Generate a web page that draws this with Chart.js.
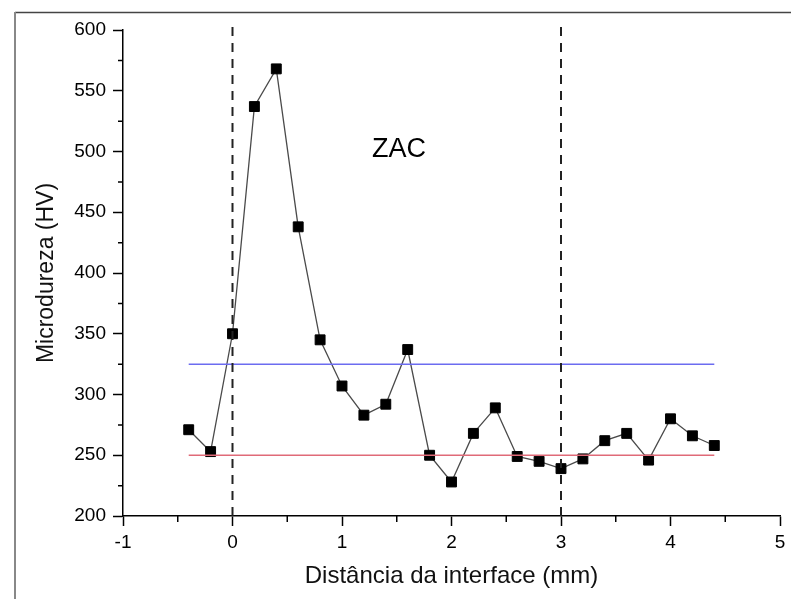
<!DOCTYPE html>
<html>
<head>
<meta charset="utf-8">
<script src="https://cdn.jsdelivr.net/npm/chart.js@4.4.1/dist/chart.umd.min.js"></script>
<style>
  html, body { margin: 0; padding: 0; background: #fff; }
  #wrap { width: 791px; height: 599px; position: relative; }
</style>
</head>
<body>
<div id="wrap"><canvas id="hardness-chart" width="791" height="599"></canvas></div>
<script>
// distance from interface (mm) and microhardness (HV)
const distances = [-0.4, -0.2, 0, 0.2, 0.4, 0.6, 0.8, 1.0, 1.2, 1.4, 1.6, 1.8, 2.0, 2.2, 2.4, 2.6, 2.8, 3.0, 3.2, 3.4, 3.6, 3.8, 4.0, 4.2, 4.4];
const hardness = [271, 253, 350, 537, 568, 438, 345, 307, 283, 292, 337, 250, 228, 268, 289, 249, 245, 239, 247, 262, 268, 246, 280, 266, 258];

// reference levels
const refSpan = [-0.4, 4.4];
const upperRef = 325;
const lowerRef = 250;

// ZAC limits (dashed)
const zacLimits = [0, 3];
const dashSpan = [200, 607];

const xTicks = [-1, 0, 1, 2, 3, 4, 5];
const yTicks = [200, 250, 300, 350, 400, 450, 500, 550, 600];

const points = distances.map((d, i) => ({ x: d, y: hardness[i] }));

// frame + minor ticks + ZAC label
const extras = {
  id: 'extras',
  beforeDraw(chart) {
    const ctx = chart.ctx;
    ctx.save();
    ctx.fillStyle = '#fff';
    ctx.fillRect(0, 0, chart.width, chart.height);
    ctx.strokeStyle = '#444';
    ctx.lineWidth = 1.5;
    ctx.beginPath();
    ctx.moveTo(15, 12.5);
    ctx.lineTo(chart.width, 12.5);
    ctx.stroke();
    ctx.strokeStyle = '#888';
    ctx.lineWidth = 2;
    ctx.beginPath();
    ctx.moveTo(15, 12);
    ctx.lineTo(15, chart.height);
    ctx.stroke();
    ctx.restore();
  },
  afterDraw(chart) {
    const ctx = chart.ctx;
    const x = chart.scales.x, y = chart.scales.y;
    ctx.save();
    ctx.strokeStyle = '#000';
    ctx.lineWidth = 1.5;
    ctx.beginPath();
    for (let v = 225; v < 600; v += 50) {
      const py = y.getPixelForValue(v);
      ctx.moveTo(x.left, py);
      ctx.lineTo(x.left - 5, py);
    }
    for (let v = -0.5; v < 5; v += 1) {
      const px = x.getPixelForValue(v);
      ctx.moveTo(px, y.bottom);
      ctx.lineTo(px, y.bottom + 6);
    }
    ctx.stroke();

    ctx.fillStyle = '#000';
    ctx.font = '27px "Liberation Sans", Arial, sans-serif';
    ctx.textAlign = 'center';
    ctx.textBaseline = 'middle';
    ctx.fillText('ZAC', x.getPixelForValue(1.52), y.getPixelForValue(502));
    ctx.restore();
  }
};

const font = '"Liberation Sans", Arial, sans-serif';

new Chart(document.getElementById('hardness-chart'), {
  type: 'scatter',
  data: {
    datasets: [
      {
        data: [{ x: zacLimits[0], y: dashSpan[0] }, { x: zacLimits[0], y: dashSpan[1] }],
        showLine: true, borderColor: '#222', borderWidth: 2, borderDash: [9, 7],
        pointRadius: 0, clip: false
      },
      {
        data: [{ x: zacLimits[1], y: dashSpan[0] }, { x: zacLimits[1], y: dashSpan[1] }],
        showLine: true, borderColor: '#222', borderWidth: 2, borderDash: [9, 7],
        pointRadius: 0, clip: false
      },
      {
        data: refSpan.map(v => ({ x: v, y: upperRef })),
        showLine: true, borderColor: '#6c6cf0', borderWidth: 1.5, pointRadius: 0
      },
      {
        data: refSpan.map(v => ({ x: v, y: lowerRef })),
        showLine: true, borderColor: '#e06a78', borderWidth: 1.5, pointRadius: 0
      },
      {
        data: points,
        showLine: true,
        borderColor: '#4a4a4a',
        borderWidth: 1.3,
        pointStyle: 'rect',
        pointRadius: 7,
        pointBackgroundColor: '#000',
        pointBorderColor: '#000',
        pointBorderWidth: 1
      }
    ]
  },
  options: {
    responsive: false,
    animation: false,
    layout: { padding: { left: 0, right: 11, top: 30, bottom: 0 } },
    plugins: { legend: { display: false }, tooltip: { enabled: false } },
    scales: {
      x: {
        type: 'linear',
        min: -1, max: 5,
        afterBuildTicks: s => { s.ticks = xTicks.map(v => ({ value: v })); },
        afterFit: s => { s.height = 83; },
        grid: { drawOnChartArea: false, tickLength: 10, tickColor: '#000', tickWidth: 1.5 },
        border: { color: '#000', width: 1.5 },
        ticks: { color: '#000', padding: 5, font: { family: font, size: 19 }, maxRotation: 0 },
        title: { display: true, text: 'Distância da interface (mm)', color: '#111', font: { family: font, size: 24 }, padding: { top: 0, bottom: 8 } }
      },
      y: {
        type: 'linear',
        min: 200, max: 600,
        afterBuildTicks: s => { s.ticks = yTicks.map(v => ({ value: v })); },
        afterFit: s => { s.width = 123; },
        grid: { drawOnChartArea: false, tickLength: 10, tickColor: '#000', tickWidth: 1.5 },
        border: { color: '#000', width: 1.5 },
        ticks: { color: '#000', padding: 7, font: { family: font, size: 19 } },
        title: { display: true, text: 'Microdureza (HV)', color: '#111', font: { family: font, size: 23 }, padding: { top: 33, bottom: 0 } }
      }
    }
  },
  plugins: [extras]
});
</script>
</body>
</html>
